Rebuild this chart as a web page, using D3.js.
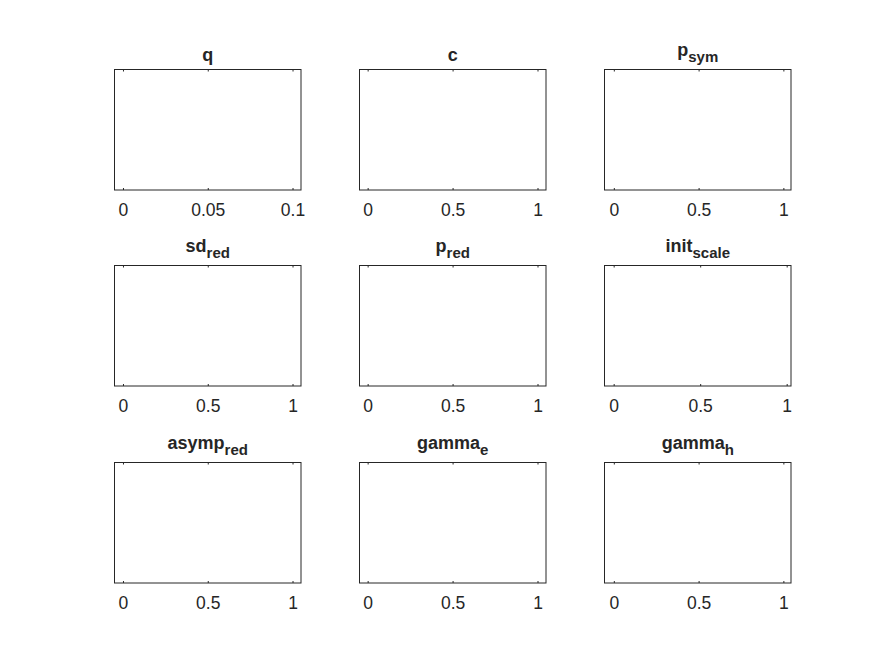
<!DOCTYPE html>
<html>
<head>
<meta charset="utf-8">
<script src="https://cdn.jsdelivr.net/npm/d3@7"></script>
<style>
  html, body { margin: 0; padding: 0; background: #fff; }
  svg { display: block; }
  text { font-family: "Liberation Sans", Arial, Helvetica, sans-serif; fill: #262626; }
</style>
</head>
<body>
<svg id="chart" width="875" height="656"></svg>
<script>
// ---- data ----
const titleMain = ["q", "c", "p", "sd", "p", "init", "asymp", "gamma", "gamma"];
const titleSub  = ["",  "",  "sym", "red", "red", "scale", "red", "e", "h"];
const domainMin = [-0.005, -0.048, -0.055, -0.05, -0.048, -0.053, -0.05, -0.048, -0.055];
const domainMax = [0.105, 1.05, 1.045, 1.05, 1.05, 1.025, 1.05, 1.05, 1.045];
const tickValuesQ = [0, 0.05, 0.1];
const tickLabelsQ = ["0", "0.05", "0.1"];
const tickValuesUnit = [0, 0.5, 1];
const tickLabelsUnit = ["0", "0.5", "1"];

// ---- layout ----
const colLeft = [114, 359, 604];
const rowTop = [69, 265, 462];
const panelW = 186.5;
const panelH = 120.5;
const axisColor = "#262626";

const svg = d3.select("#chart");
svg.append("rect").attr("width", 875).attr("height", 656).attr("fill", "#fff");

titleMain.forEach((t, i) => {
  const col = i % 3, row = Math.floor(i / 3);
  const x0 = colLeft[col], y0 = rowTop[row];
  const g = svg.append("g").attr("transform", `translate(${x0 + 0.5},${y0 + 0.5})`);
  const x = d3.scaleLinear().domain([domainMin[i], domainMax[i]]).range([0, panelW]);
  const y = d3.scaleLinear().domain([0, 1]).range([panelH, 0]);

  const tv = i === 0 ? tickValuesQ : tickValuesUnit;
  const tl = i === 0 ? tickLabelsQ : tickLabelsUnit;

  // bottom axis: inward ticks + labels
  const bottom = d3.axisBottom(x).tickValues(tv).tickSize(0).tickPadding(0)
    .tickFormat((d, k) => tl[k]);
  const gb = g.append("g").attr("transform", `translate(0,${panelH})`).call(bottom);
  gb.select(".domain").remove();
  gb.selectAll("text")
    .attr("y", 26).attr("dy", 0)
    .style("font-size", "17.5px")
    .style("fill", axisColor)
    .attr("font-family", null);
  gb.selectAll(".tick").append("line")
    .attr("y1", 0).attr("y2", -2).attr("stroke", axisColor);

  // top ticks inward
  const gt = g.append("g").call(d3.axisTop(x).tickValues(tv).tickSize(0).tickFormat(""));
  gt.select(".domain").remove();
  gt.selectAll(".tick").append("line")
    .attr("y1", 0).attr("y2", 2).attr("stroke", axisColor);

  // box
  g.append("rect")
    .attr("x", x.range()[0]).attr("y", y.range()[1])
    .attr("width", panelW).attr("height", panelH)
    .attr("fill", "none").attr("stroke", axisColor).attr("stroke-width", 1);

  // title
  const hasSub = titleSub[i] !== "";
  const tt = g.append("text")
    .attr("x", panelW / 2)
    .attr("y", hasSub ? -14 : -9)
    .attr("text-anchor", "middle")
    .style("font-weight", "bold")
    .style("font-size", "18px");
  tt.append("tspan").text(t);
  if (hasSub) {
    tt.append("tspan").attr("dy", 6).style("font-size", "15px").text(titleSub[i]);
  }
});
</script>
</body>
</html>
